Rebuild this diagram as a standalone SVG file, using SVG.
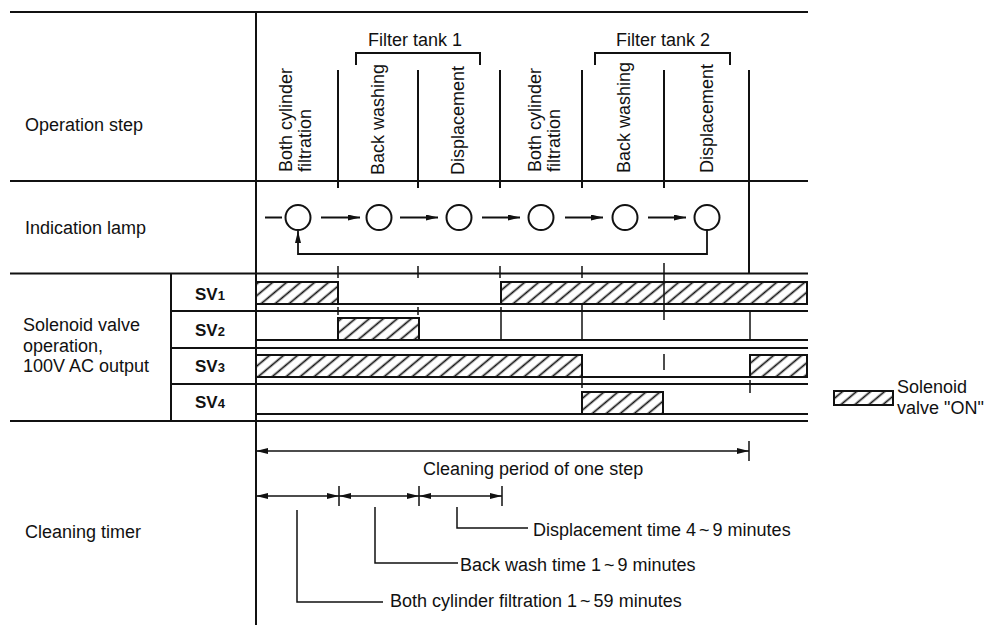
<svg xmlns="http://www.w3.org/2000/svg" width="991" height="631" viewBox="0 0 991 631">
<style>
text{font-family:"Liberation Sans",Arial,sans-serif;font-size:18px;fill:#111}
.ln{stroke:#111;stroke-width:2;fill:none}
.th{stroke:#111;stroke-width:1.5;fill:none}
.hb{fill:url(#hatch);stroke:#111;stroke-width:2}
.sv{font-weight:bold;font-size:17px}
.sub{font-size:13px}
.lamp{fill:#fff;stroke:#111;stroke-width:2}
.arr{stroke:#111;stroke-width:1.8;fill:none;marker-end:url(#ah)}
.dim{stroke:#111;stroke-width:1.5;fill:none;marker-start:url(#ah);marker-end:url(#ah)}
</style>
<defs>
<pattern id="hatch" width="9" height="9" patternUnits="userSpaceOnUse" patternTransform="rotate(-40)"><line x1="0" y1="4.5" x2="9" y2="4.5" stroke="#111" stroke-width="1.7"/></pattern>
<marker id="ah" viewBox="0 0 12 6" refX="12" refY="3" markerWidth="12" markerHeight="6" markerUnits="userSpaceOnUse" orient="auto-start-reverse"><path d="M0,0 L12,3 L0,6 z" fill="#111"/></marker>
</defs>
<rect width="991" height="631" fill="#fff"/>

<g id="frame" class="ln">
<line x1="10" y1="12" x2="808" y2="12"/>
<line x1="10" y1="181" x2="808" y2="181"/>
<line x1="10" y1="273.5" x2="808" y2="273.5"/>
<line x1="10" y1="421" x2="808" y2="421"/>
<line x1="256" y1="12" x2="256" y2="625"/>
<line x1="171" y1="274" x2="171" y2="421"/>
<line x1="171" y1="311" x2="808" y2="311"/>
<line x1="171" y1="348" x2="808" y2="348"/>
<line x1="171" y1="384" x2="808" y2="384"/>
</g>

<g id="row-labels">
<text x="25" y="131">Operation step</text>
<text x="25" y="234">Indication lamp</text>
<text x="23" y="331">Solenoid valve<tspan x="23" dy="20.5">operation,</tspan><tspan x="23" dy="20.5">100V AC output</tspan></text>
<text x="25" y="538">Cleaning timer</text>
</g>

<g id="operation-steps">
<g class="ln">
<line x1="338" y1="70" x2="338" y2="188"/>
<line x1="418" y1="70" x2="418" y2="188"/>
<line x1="500" y1="70" x2="500" y2="188"/>
<line x1="582" y1="70" x2="582" y2="188"/>
<line x1="664" y1="70" x2="664" y2="188"/>
<line x1="749" y1="70" x2="749" y2="274"/>
<path d="M356,65 V53 H480 V65"/>
<path d="M595,65 V53 H730 V65"/>
</g>
<text x="415" y="46" text-anchor="middle">Filter tank 1</text>
<text x="663" y="46" text-anchor="middle">Filter tank 2</text>
<text transform="translate(292,172) rotate(-90)">Both cylinder</text>
<text transform="translate(311,172) rotate(-90)">filtration</text>
<text transform="translate(384,175) rotate(-90)">Back washing</text>
<text transform="translate(464,175) rotate(-90)">Displacement</text>
<text transform="translate(541,172) rotate(-90)">Both cylinder</text>
<text transform="translate(560,172) rotate(-90)">filtration</text>
<text transform="translate(630,173) rotate(-90)">Back washing</text>
<text transform="translate(713,173) rotate(-90)">Displacement</text>
</g>

<g id="lamps">
<g id="lamp1"><circle class="lamp" cx="298" cy="217.5" r="12.5"/></g>
<g id="lamp2"><circle class="lamp" cx="379" cy="217.5" r="12.5"/></g>
<g id="lamp3"><circle class="lamp" cx="459" cy="217.5" r="12.5"/></g>
<g id="lamp4"><circle class="lamp" cx="541" cy="217.5" r="12.5"/></g>
<g id="lamp5"><circle class="lamp" cx="625" cy="217.5" r="12.5"/></g>
<g id="lamp6"><circle class="lamp" cx="707" cy="217.5" r="12.5"/></g>
</g>

<g id="connectors">
<line class="ln" x1="265" y1="217.5" x2="282" y2="217.5"/>
<line class="arr" x1="321" y1="217.5" x2="360" y2="217.5"/>
<line class="arr" x1="400" y1="217.5" x2="438" y2="217.5"/>
<line class="arr" x1="482" y1="217.5" x2="520" y2="217.5"/>
<line class="arr" x1="565" y1="217.5" x2="603" y2="217.5"/>
<line class="arr" x1="648" y1="217.5" x2="686" y2="217.5"/>
<path class="arr" d="M707,230 V254 H298 V231"/>
</g>

<g id="sv-labels">
<text class="sv" x="195" y="300">SV<tspan class="sub">1</tspan></text>
<text class="sv" x="195" y="336">SV<tspan class="sub">2</tspan></text>
<text class="sv" x="195" y="372">SV<tspan class="sub">3</tspan></text>
<text class="sv" x="195" y="408">SV<tspan class="sub">4</tspan></text>
</g>

<g id="sv-timing">
<g class="ln">
<line x1="256" y1="304" x2="808" y2="304"/>
<line x1="256" y1="340" x2="808" y2="340"/>
<line x1="256" y1="377" x2="808" y2="377"/>
<line x1="256" y1="414" x2="808" y2="414"/>
</g>
<g class="th">
<line x1="338" y1="266" x2="338" y2="278"/>
<line x1="418" y1="266" x2="418" y2="278"/>
<line x1="500" y1="266" x2="500" y2="278"/>
<line x1="582" y1="266" x2="582" y2="278"/>
<line x1="338" y1="307" x2="338" y2="315"/>
<line x1="418" y1="307" x2="418" y2="315"/>
<line x1="501" y1="307" x2="501" y2="340"/>
<line x1="582" y1="305" x2="582" y2="340"/>
<line x1="582" y1="378" x2="582" y2="388"/>
<line x1="664" y1="263" x2="664" y2="320"/>
<line x1="664" y1="354" x2="664" y2="370"/>
<line x1="750" y1="311" x2="750" y2="340"/>
<line x1="750" y1="380" x2="750" y2="393"/>
</g>
<rect class="hb" x="256" y="282" width="82" height="22"/>
<rect class="hb" x="501" y="282" width="306" height="22"/>
<rect class="hb" x="338" y="318" width="81" height="22"/>
<rect class="hb" x="256" y="355" width="326" height="22"/>
<rect class="hb" x="750" y="355" width="57" height="22"/>
<rect class="hb" x="582" y="392" width="81" height="22"/>
</g>

<g id="legend">
<rect class="hb" x="834" y="391" width="59" height="14"/>
<text x="897" y="393">Solenoid<tspan x="897" dy="20.5">valve "ON"</tspan></text>
</g>

<g id="timer">
<line class="dim" x1="256" y1="451" x2="749" y2="451"/>
<line class="th" x1="749" y1="441" x2="749" y2="461"/>
<text x="423" y="475">Cleaning period of one step</text>
<line class="dim" x1="256" y1="496" x2="339" y2="496"/>
<line class="dim" x1="339" y1="496" x2="419" y2="496"/>
<line class="dim" x1="419" y1="496" x2="502" y2="496"/>
<line class="th" x1="339" y1="486" x2="339" y2="506"/>
<line class="th" x1="419" y1="486" x2="419" y2="506"/>
<line class="th" x1="502" y1="486" x2="502" y2="506"/>
<path class="th" d="M457,507 V528 H528"/>
<path class="th" d="M375,507 V563 H458"/>
<path class="th" d="M297,510 V602 H383"/>
<text x="533" y="536">Displacement time 4<tspan dx="3">~</tspan><tspan dx="3">9 minutes</tspan></text>
<text x="460" y="571">Back wash time 1<tspan dx="3">~</tspan><tspan dx="3">9 minutes</tspan></text>
<text x="390" y="607">Both cylinder filtration 1<tspan dx="3">~</tspan><tspan dx="3">59 minutes</tspan></text>
</g>
</svg>
